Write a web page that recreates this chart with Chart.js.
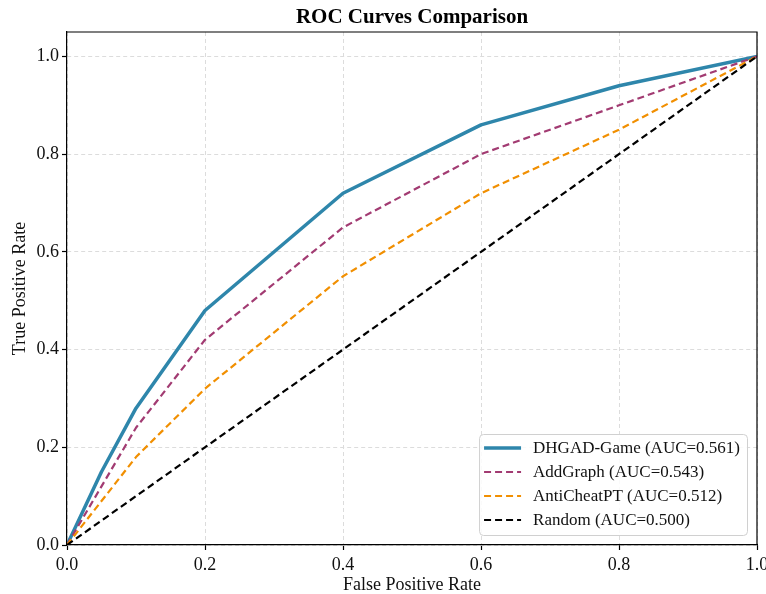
<!DOCTYPE html>
<html>
<head>
<meta charset="utf-8">
<script src="https://cdn.jsdelivr.net/npm/chart.js"></script>
<style>
  body { margin: 0; background: #fff; }
  #wrap { width: 766px; height: 594px; }
</style>
</head>
<body>
<div id="wrap"><canvas id="rocChart" width="766" height="594"></canvas></div>
<script>
// ROC points
const fpr = [0, 0.05, 0.1, 0.2, 0.4, 0.6, 0.8, 1.0];
const tprDhgad = [0, 0.15, 0.28, 0.48, 0.72, 0.86, 0.94, 1.0];
const tprAddGraph = [0, 0.12, 0.24, 0.42, 0.65, 0.80, 0.90, 1.0];
const tprAntiCheat = [0, 0.09, 0.18, 0.32, 0.55, 0.72, 0.85, 1.0];
const randomFpr = [0, 1];
const randomTpr = [0, 1];

const labels = [
    "DHGAD-Game (AUC=0.561)",
    "AddGraph (AUC=0.543)",
    "AntiCheatPT (AUC=0.512)",
    "Random (AUC=0.500)"
];
const xTicks = [0, 0.2, 0.4, 0.6, 0.8, 1.0];
const yTicks = [0, 0.2, 0.4, 0.6, 0.8, 1.0];

const SERIF = "'Liberation Serif', 'DejaVu Serif', serif";

function toPoints(xs, ys) {
    return xs.map((x, i) => ({ x: x, y: ys[i] }));
}

// title centred over the plot area, frame on top/right, legend box inside
const extras = {
    id: "extras",
    afterDraw(chart) {
        const ctx = chart.ctx;
        const a = chart.chartArea;
        ctx.save();

        ctx.strokeStyle = "#000";
        ctx.lineWidth = 1.2;
        ctx.beginPath();
        ctx.moveTo(a.left, a.top);
        ctx.lineTo(a.right, a.top);
        ctx.lineTo(a.right, a.bottom);
        ctx.stroke();

        ctx.fillStyle = "#000";
        ctx.font = "bold 21px " + SERIF;
        ctx.textAlign = "center";
        ctx.textBaseline = "middle";
        ctx.fillText("ROC Curves Comparison", (a.left + a.right) / 2, 18);

        // legend
        ctx.font = "17px " + SERIF;
        const sets = chart.data.datasets;
        let maxW = 0;
        sets.forEach(d => { maxW = Math.max(maxW, ctx.measureText(d.label).width); });
        const rowH = 24;
        const w = 54 + maxW + 7;
        const h = 14 + rowH * (sets.length - 1) + 15;
        const bx = a.right - 10 - w;
        const by = a.bottom - 10 - h;

        ctx.fillStyle = "rgba(255,255,255,0.85)";
        ctx.strokeStyle = "#d0d0d0";
        ctx.lineWidth = 1;
        ctx.beginPath();
        ctx.roundRect(bx + 0.5, by + 0.5, w, h, 4);
        ctx.fill();
        ctx.stroke();

        sets.forEach((d, i) => {
            const cy = by + 14 + i * rowH;
            ctx.strokeStyle = d.borderColor;
            ctx.lineWidth = d.borderWidth;
            ctx.setLineDash(d.borderDash || []);
            ctx.beginPath();
            ctx.moveTo(bx + 5, cy);
            ctx.lineTo(bx + 42, cy);
            ctx.stroke();
            ctx.setLineDash([]);
            ctx.fillStyle = "#111";
            ctx.textAlign = "left";
            ctx.textBaseline = "middle";
            ctx.fillText(d.label, bx + 54, cy + 1);
        });
        ctx.restore();
    }
};

const ctx = document.getElementById("rocChart").getContext("2d");
const myChart = new Chart(ctx, {
    type: "line",
    data: {
        datasets: [
            {
                label: labels[0],
                data: toPoints(fpr, tprDhgad),
                borderColor: "#2E86AB",
                borderWidth: 3.5,
                order: 4
            },
            {
                label: labels[1],
                data: toPoints(fpr, tprAddGraph),
                borderColor: "#A23B72",
                borderWidth: 2.2,
                borderDash: [7, 4],
                order: 3
            },
            {
                label: labels[2],
                data: toPoints(fpr, tprAntiCheat),
                borderColor: "#F18F01",
                borderWidth: 2.2,
                borderDash: [7, 4],
                order: 2
            },
            {
                label: labels[3],
                data: toPoints(randomFpr, randomTpr),
                borderColor: "#000000",
                borderWidth: 2.2,
                borderDash: [7, 4],
                order: 1
            }
        ]
    },
    options: {
        responsive: false,
        animation: false,
        devicePixelRatio: 1,
        layout: { padding: { top: 32, right: 9, left: 0, bottom: 0 } },
        elements: {
            point: { radius: 0, hoverRadius: 0 },
            line: { tension: 0, fill: false, borderCapStyle: "butt", borderJoinStyle: "round" }
        },
        plugins: {
            legend: { display: false },
            title: { display: false },
            tooltip: { enabled: false }
        },
        scales: {
            x: {
                type: "linear",
                min: 0,
                max: 1,
                afterBuildTicks: s => { s.ticks = xTicks.map(v => ({ value: v })); },
                afterFit: s => { s.height = 49; s.paddingLeft = 0; s.paddingRight = 0; },
                grid: { color: "#dcdcdc", lineWidth: 1, tickColor: "#000", tickLength: 5, tickWidth: 1.2 },
                border: { display: true, color: "#000", width: 1.2, dash: [4, 3] },
                ticks: {
                    padding: 4,
                    color: "#111",
                    font: { family: SERIF, size: 18 },
                    callback: v => v.toFixed(1),
                    maxRotation: 0
                },
                title: {
                    display: true,
                    text: "False Positive Rate",
                    color: "#111",
                    font: { family: SERIF, size: 18 },
                    padding: { top: 0, bottom: -2 }
                }
            },
            y: {
                type: "linear",
                min: 0,
                max: 1.05,
                afterBuildTicks: s => { s.ticks = yTicks.map(v => ({ value: v })); },
                afterFit: s => { s.width = 67; s.paddingTop = 0; s.paddingBottom = 0; },
                grid: { color: "#dcdcdc", lineWidth: 1, tickColor: "#000", tickLength: 5, tickWidth: 1.2 },
                border: { display: true, color: "#000", width: 1.2, dash: [4, 3] },
                ticks: {
                    padding: 3,
                    color: "#111",
                    font: { family: SERIF, size: 18 },
                    callback: v => v.toFixed(1)
                },
                title: {
                    display: true,
                    text: "True Positive Rate",
                    color: "#111",
                    font: { family: SERIF, size: 18 },
                    padding: { top: 9, bottom: 0 }
                }
            }
        }
    },
    plugins: [extras]
});
</script>
</body>
</html>
